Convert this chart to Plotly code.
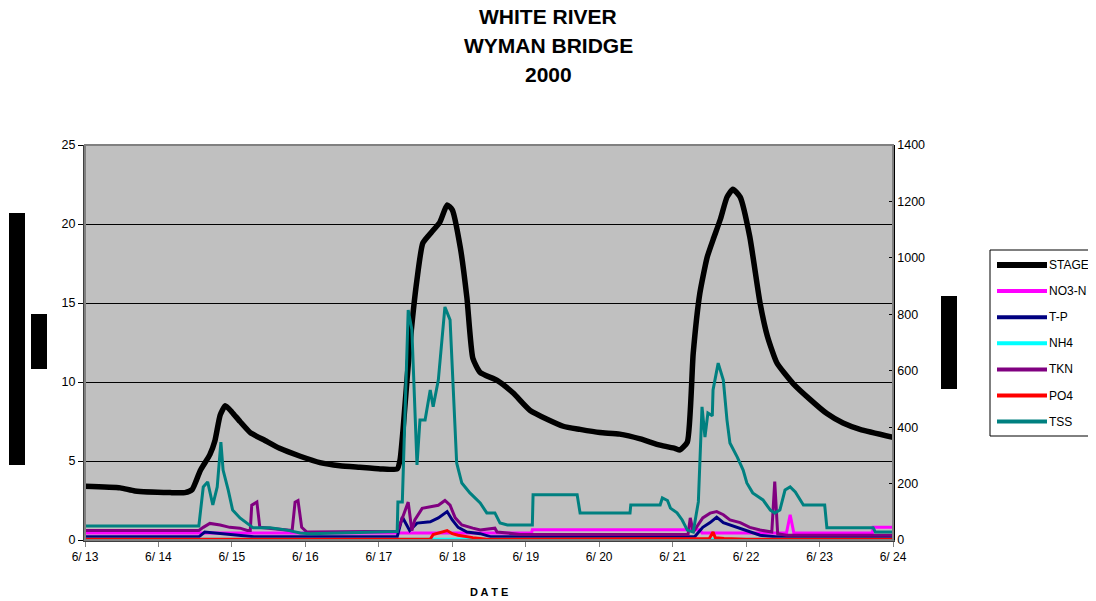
import plotly.graph_objects as go

# ---- data (June day, fractional) ----
stage_day = [13.00, 13.48, 13.68, 14.16, 14.36, 14.46, 14.57, 14.70, 14.77, 14.84, 14.91, 15.00, 15.11, 15.25,
             15.45, 15.65, 15.93, 16.20, 16.47, 16.74, 17.02, 17.25, 17.29, 17.33, 17.42, 17.52, 17.60, 17.74,
             17.83, 17.93, 18.00, 18.11, 18.20, 18.28, 18.38, 18.61, 18.83, 19.06, 19.51, 19.74, 20.01, 20.28,
             20.56, 20.83, 21.03, 21.10, 21.20, 21.28, 21.37, 21.47, 21.55, 21.65, 21.74, 21.82, 21.92, 22.05,
             22.19, 22.29, 22.42, 22.64, 22.87, 23.10, 23.32, 23.55, 24.00]
stage_val = [3.4, 3.3, 3.1, 3.0, 3.0, 3.2, 4.4, 5.4, 6.3, 7.9, 8.5, 8.1, 7.5, 6.8,
             6.3, 5.8, 5.3, 4.9, 4.7, 4.6, 4.5, 4.5, 5.1, 7.0, 12.2, 16.5, 18.8, 19.6,
             20.1, 21.2, 20.9, 18.5, 15.3, 11.5, 10.6, 10.1, 9.3, 8.2, 7.2, 7.0, 6.8, 6.7,
             6.4, 6.0, 5.8, 5.7, 6.2, 11.8, 15.6, 17.9, 19.0, 20.3, 21.7, 22.2, 21.7, 19.2,
             15.0, 12.9, 11.2, 9.9, 8.9, 8.0, 7.4, 7.0, 6.5]

no3_day = [13.00, 19.08, 19.09, 21.37, 21.40, 22.55, 22.60, 22.65, 23.72, 23.73, 24.00]
no3_val = [0.45, 0.45, 0.65, 0.65, 0.45, 0.45, 1.6, 0.45, 0.45, 0.8, 0.8]

tp_day = [13.00, 14.55, 14.63, 14.74, 14.88, 15.10, 15.30, 17.25, 17.32, 17.42, 17.52, 17.70, 17.81, 17.93,
          18.00, 18.08, 18.20, 18.38, 18.53, 21.30, 21.41, 21.51, 21.60, 21.69, 21.78, 21.92, 22.05, 22.19,
          22.40, 24.00]
tp_val = [0.2, 0.2, 0.5, 0.45, 0.35, 0.25, 0.2, 0.2, 1.45, 0.6, 1.07, 1.15, 1.4, 1.8,
          1.27, 0.8, 0.5, 0.4, 0.2, 0.2, 0.8, 1.1, 1.45, 1.1, 0.95, 0.75, 0.5, 0.3,
          0.2, 0.2]

nh4_day = [13.00, 24.00]
nh4_val = [0.05, 0.05]

tkn_day = [13.00, 14.55, 14.61, 14.70, 14.84, 14.97, 15.11, 15.21, 15.25, 15.27, 15.34, 15.38, 15.82, 15.86,
           15.90, 15.95, 16.02, 17.25, 17.29, 17.40, 17.45, 17.49, 17.59, 17.70, 17.81, 17.90, 17.97, 18.04,
           18.13, 18.28, 18.38, 18.58, 18.61, 18.75, 18.92, 21.21, 21.24, 21.28, 21.41, 21.51, 21.60, 21.69,
           21.78, 21.92, 22.05, 22.19, 22.35, 22.39, 22.43, 22.55, 24.00]
tkn_val = [0.6, 0.6, 0.8, 1.05, 0.95, 0.8, 0.75, 0.6, 0.6, 2.2, 2.4, 0.8, 0.6, 2.4,
           2.5, 0.8, 0.5, 0.55, 1.0, 2.4, 0.6, 1.27, 2.0, 2.1, 2.2, 2.5, 2.2, 1.4,
           0.95, 0.75, 0.63, 0.75, 0.5, 0.44, 0.35, 0.35, 1.4, 0.5, 1.4, 1.7, 1.8, 1.6,
           1.27, 1.1, 0.8, 0.63, 0.5, 3.7, 0.4, 0.3, 0.3]

po4_day = [13.00, 17.70, 17.74, 17.83, 17.93, 18.00, 18.08, 18.28, 18.47, 21.50, 21.55, 21.58, 21.70, 22.00, 24.00]
po4_val = [0.05, 0.05, 0.35, 0.45, 0.6, 0.4, 0.3, 0.15, 0.05, 0.1, 0.5, 0.15, 0.1, 0.05, 0.05]

tss_day = [13.00, 14.55, 14.61, 14.67, 14.74, 14.80, 14.85, 14.88, 14.95, 15.01, 15.11, 15.21, 15.29, 15.52,
           15.75, 15.93, 16.06, 17.25, 17.26, 17.32, 17.40, 17.45, 17.52, 17.56, 17.63, 17.70, 17.74, 17.81,
           17.90, 17.97, 18.06, 18.13, 18.24, 18.38, 18.47, 18.58, 18.65, 18.75, 19.09, 19.10, 19.70, 19.74,
           20.42, 20.43, 20.83, 20.86, 20.93, 20.97, 21.06, 21.13, 21.20, 21.28, 21.35, 21.40, 21.44, 21.48,
           21.54, 21.55, 21.62, 21.69, 21.74, 21.78, 21.88, 21.96, 22.01, 22.09, 22.23, 22.33, 22.39, 22.46,
           22.53, 22.60, 22.67, 22.78, 23.07, 23.10, 23.73, 23.76, 24.00]
tss_val = [50, 50, 188, 206, 124, 188, 347, 248, 177, 106, 78, 60, 43, 43,
           35, 25, 22, 30, 135, 135, 815, 745, 266, 425, 425, 532, 472, 567,
           826, 780, 273, 202, 167, 131, 96, 96, 60, 53, 53, 160, 160, 96,
           96, 124, 124, 149, 140, 113, 96, 71, 35, 28, 135, 472, 365, 450,
           440, 532, 627, 567, 425, 344, 294, 248, 202, 167, 142, 106, 96, 106,
           177, 188, 170, 124, 124, 43, 43, 28, 28]

tick_days = [13, 14, 15, 16, 17, 18, 19, 20, 21, 22, 23, 24]
tick_text = ["6/ 13", "6/ 14", "6/ 15", "6/ 16", "6/ 17", "6/ 18", "6/ 19", "6/ 20", "6/ 21", "6/ 22", "6/ 23", "6/ 24"]
title_lines = ["WHITE RIVER", "WYMAN BRIDGE", "2000"]

FONT = "Liberation Sans, Arial, sans-serif"


def px_x(px):
    return (px - 85) / 808


def px_y(py):
    return (540 - py) / 395


fig = go.Figure()
series = [
    ("STAGE", stage_day, stage_val, "#000000", 5.5, "y", "spline"),
    ("NO3-N", no3_day, no3_val, "#FF00FF", 3, "y", "linear"),
    ("T-P", tp_day, tp_val, "#000080", 3, "y", "linear"),
    ("NH4", nh4_day, nh4_val, "#00FFFF", 3, "y", "linear"),
    ("TKN", tkn_day, tkn_val, "#800080", 3, "y", "linear"),
    ("PO4", po4_day, po4_val, "#FF0000", 3, "y", "linear"),
    ("TSS", tss_day, tss_val, "#008080", 3, "y2", "linear"),
]
for name, xd, yd, col, w, ax, shp in series:
    line = dict(color=col, width=w, shape=shp)
    if shp == "spline":
        line["smoothing"] = 0.5
    fig.add_trace(go.Scatter(x=xd, y=yd, name=name, mode="lines", yaxis=ax,
                             line=line, showlegend=False))

shapes = [
    dict(type="rect", xref="paper", yref="paper", x0=0, x1=1, y0=0, y1=1,
         line=dict(color="#808080", width=2), layer="above"),
    dict(type="rect", xref="paper", yref="paper", x0=px_x(9), x1=px_x(25), y0=px_y(465), y1=px_y(213),
         fillcolor="black", line=dict(width=0)),
    dict(type="rect", xref="paper", yref="paper", x0=px_x(31), x1=px_x(47), y0=px_y(369), y1=px_y(314),
         fillcolor="black", line=dict(width=0)),
    dict(type="rect", xref="paper", yref="paper", x0=px_x(941), x1=px_x(957), y0=px_y(389), y1=px_y(296),
         fillcolor="black", line=dict(width=0)),
    # legend box
    dict(type="rect", xref="paper", yref="paper", x0=px_x(990), x1=px_x(1120), y0=px_y(436), y1=px_y(250),
         fillcolor="white", line=dict(color="black", width=1)),
]
annotations = []
for i, (name, xd, yd, col, w, ax, shp) in enumerate(series):
    ly = 265 + 26.1 * i
    shapes.append(dict(type="line", xref="paper", yref="paper", x0=px_x(997), x1=px_x(1047),
                       y0=px_y(ly), y1=px_y(ly), line=dict(color=col, width=6 if name == "STAGE" else 4)))
    annotations.append(dict(text=name, xref="paper", yref="paper", x=px_x(1047), y=px_y(ly),
                            xanchor="left", yanchor="middle", showarrow=False,
                            font=dict(family=FONT, size=12, color="black")))

for py, txt in zip([16, 45.5, 75], title_lines):
    annotations.append(dict(text="<b>" + txt + "</b>", xref="paper", yref="paper",
                            x=px_x(548), y=px_y(py), xanchor="center", yanchor="middle", showarrow=False,
                            font=dict(family=FONT, size=21, color="black")))
annotations.append(dict(text="<b>D A T E</b>", xref="paper", yref="paper", x=0.5, y=px_y(592),
                        showarrow=False, font=dict(family=FONT, size=11), xanchor="center", yanchor="middle"))

fig.update_layout(
    width=1088, height=593,
    margin=dict(l=77, r=203, t=137, b=61),
    paper_bgcolor="white",
    plot_bgcolor="#C0C0C0",
    font=dict(family=FONT, size=12, color="black"),
    xaxis=dict(range=[13, 24], tickvals=tick_days, ticktext=tick_text, showgrid=False, zeroline=False,
               showline=True, linecolor="#404040", linewidth=2, ticks="outside", ticklen=5,
               tickcolor="#808080", tickfont=dict(size=12)),
    yaxis=dict(range=[0, 25], tickvals=[0, 5, 10, 15, 20, 25], showgrid=True, gridcolor="black",
               gridwidth=1, zeroline=False, showline=True, linecolor="#404040", linewidth=2,
               ticks="outside", ticklen=5, tickcolor="black", tickfont=dict(size=12.5)),
    yaxis2=dict(range=[0, 1400], tickvals=[0, 200, 400, 600, 800, 1000, 1200, 1400], overlaying="y",
                side="right", showgrid=False, zeroline=False, showline=True, linecolor="black",
                linewidth=1.5, ticks="inside", ticklen=4, tickcolor="black", tickfont=dict(size=12.5)),
    shapes=shapes,
    annotations=annotations,
    showlegend=False,
)

fig.write_html("out.html")
